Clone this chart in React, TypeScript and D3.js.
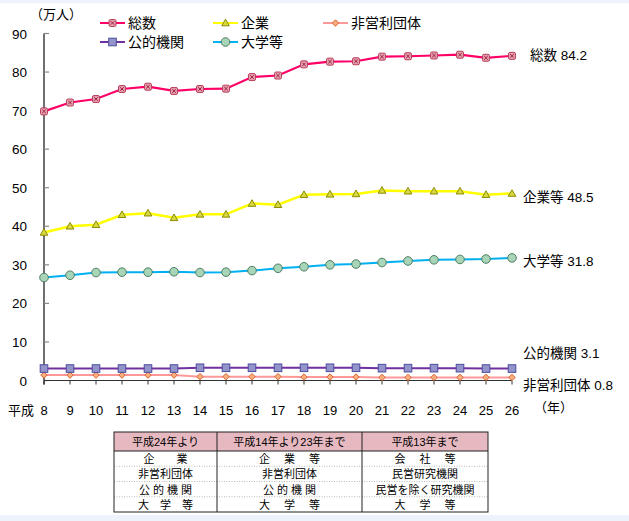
import React from "react";
import * as d3 from "d3";

const years = [8, 9, 10, 11, 12, 13, 14, 15, 16, 17, 18, 19, 20, 21, 22, 23, 24, 25, 26];
const yTicks = [0, 10, 20, 30, 40, 50, 60, 70, 80, 90];

const total = [69.8, 72.1, 73.0, 75.6, 76.2, 75.1, 75.6, 75.7, 78.7, 79.1, 82.0, 82.7, 82.8, 84.0, 84.1, 84.3, 84.5, 83.7, 84.2];
const company = [38.4, 40.0, 40.4, 43.0, 43.4, 42.2, 43.1, 43.1, 45.9, 45.6, 48.2, 48.3, 48.4, 49.3, 49.1, 49.1, 49.1, 48.2, 48.5];
const univ = [26.7, 27.3, 28.0, 28.1, 28.1, 28.2, 28.0, 28.1, 28.5, 29.1, 29.5, 30.0, 30.2, 30.6, 31.0, 31.3, 31.4, 31.5, 31.8];
const publicInst = [3.1, 3.1, 3.1, 3.1, 3.1, 3.1, 3.3, 3.3, 3.3, 3.3, 3.3, 3.3, 3.3, 3.2, 3.2, 3.2, 3.2, 3.1, 3.1];
const nonProfit = [1.4, 1.4, 1.4, 1.4, 1.4, 1.4, 1.0, 1.0, 1.0, 1.0, 0.9, 0.9, 0.9, 0.8, 0.8, 0.8, 0.8, 0.8, 0.8];

const seriesNames = ["総数", "企業", "非営利団体", "公的機関", "大学等"];
const endLabels = ["総数 84.2", "企業等 48.5", "非営利団体 0.8", "公的機関 3.1", "大学等 31.8"];

const tableHeader = ["平成24年より", "平成14年より23年まで", "平成13年まで"];
const tableRows = [
  ["企　　業", "企　 業　 等", "会　 社　 等"],
  ["非営利団体", "非営利団体", "民営研究機関"],
  ["公 的 機 関", "公 的 機 関", "民営を除く研究機関"],
  ["大　学　等", "大　 学　 等", "大　 学　 等"],
];

const FONT = "'Liberation Sans', Arial, 'Noto Sans CJK JP', sans-serif";

type Style = { line: string; width: number; marker: string; fill: string; stroke: string };
const styles: Style[] = [
  { line: "#ff0066", width: 2.2, marker: "xsquare", fill: "#e4a0b0", stroke: "#b8405c" },
  { line: "#ffff00", width: 2.5, marker: "triangle", fill: "#d8d840", stroke: "#8c8c00" },
  { line: "#ff9999", width: 2, marker: "diamond", fill: "#f4b080", stroke: "#e0602c" },
  { line: "#7030a0", width: 2, marker: "square", fill: "#9494cc", stroke: "#4c4c9c" },
  { line: "#00b0f0", width: 2, marker: "circle", fill: "#a8d4b8", stroke: "#4e7e60" },
];

function Marker({ kind, x, y, fill, stroke }: { kind: string; x: number; y: number; fill: string; stroke: string }) {
  if (kind === "xsquare") {
    return (
      <g>
        <rect x={x - 3.5} y={y - 3.5} width={7} height={7} rx={1.5} fill={fill} stroke={stroke} strokeWidth={1} />
        <path d={`M${x - 1.8},${y - 1.8}L${x + 1.8},${y + 1.8}M${x + 1.8},${y - 1.8}L${x - 1.8},${y + 1.8}`} stroke="#a02040" strokeWidth={1} />
      </g>
    );
  }
  if (kind === "triangle") {
    return <path d={`M${x},${y - 3.8}L${x + 3.8},${y + 2.8}L${x - 3.8},${y + 2.8}Z`} fill={fill} stroke={stroke} strokeWidth={1} />;
  }
  if (kind === "diamond") {
    return <path d={`M${x},${y - 3.2}L${x + 3.2},${y}L${x},${y + 3.2}L${x - 3.2},${y}Z`} fill={fill} stroke={stroke} strokeWidth={1} />;
  }
  if (kind === "square") {
    return <rect x={x - 3.8} y={y - 3.8} width={7.6} height={7.6} fill={fill} stroke={stroke} strokeWidth={1} />;
  }
  return <circle cx={x} cy={y} r={4.3} fill={fill} stroke={stroke} strokeWidth={1} />;
}

export default function App() {
  const W = 629, H = 521;
  const x = d3.scalePoint<number>().domain(years).range([44, 512]);
  const y = d3.scaleLinear().domain([0, 90]).range([380.5, 33.5]);
  const data = [total, company, nonProfit, publicInst, univ];
  const line = (vals: number[]) =>
    d3.line<number>().x((_, i) => x(years[i])!).y((v) => y(v))(vals) || "";

  const legendPos = [
    [100, 23], [213, 23], [323, 23], [100, 42], [213, 42],
  ];
  const endY = [55, 197, 385, 353, 261];

  // table geometry
  const tx = [114, 217, 362, 488];
  const ty0 = 432, th = 19, rh = 15.25;
  const tBottom = ty0 + th + rh * tableRows.length;

  return (
    <svg width={W} height={H} style={{ position: "absolute", left: 0, top: 0, background: "#fff" }} fontFamily={FONT}>
      <rect x={0} y={0} width={W} height={3} fill="#eef3fb" />
      <rect x={0} y={515} width={W} height={6} fill="#eef3fb" />

      {/* unit */}
      <text x={30} y={19} fontSize={13} fill="#000">（万人）</text>

      {/* legend */}
      {seriesNames.map((n, i) => {
        const [lx, ly] = legendPos[i];
        const s = styles[i];
        return (
          <g key={n}>
            <line x1={lx} x2={lx + 25} y1={ly} y2={ly} stroke={s.line} strokeWidth={2} />
            <Marker kind={s.marker} x={lx + 12.5} y={ly} fill={s.fill} stroke={s.stroke} />
            <text x={lx + 28} y={ly + 5} fontSize={14} fill="#000">{n}</text>
          </g>
        );
      })}

      {/* axes */}
      <line x1={44} x2={44} y1={y(90)} y2={y(0) + 4} stroke="#404040" strokeWidth={1.5} />
      {yTicks.map((t) => (
        <g key={t}>
          <line x1={44} x2={49} y1={y(t)} y2={y(t)} stroke="#888" strokeWidth={1.2} />
          <text x={27} y={y(t) + 5} fontSize={13.5} textAnchor="end" fill="#000">{t}</text>
        </g>
      ))}
      <line x1={44} x2={512} y1={y(0)} y2={y(0)} stroke="#303030" strokeWidth={1.2} />
      {years.map((yr) => (
        <g key={yr}>
          <line x1={x(yr)} x2={x(yr)} y1={y(0)} y2={y(0) + 4} stroke="#303030" strokeWidth={1} />
          <text x={x(yr)} y={415} fontSize={13} textAnchor="middle" fill="#000">{yr}</text>
        </g>
      ))}
      <text x={21} y={415} fontSize={13} textAnchor="middle" fill="#000">平成</text>
      <text x={534} y={412} fontSize={13} fill="#000">（年）</text>

      {/* lines */}
      {data.map((vals, i) => (
        <path key={i} d={line(vals)} fill="none" stroke={styles[i].line} strokeWidth={styles[i].width} />
      ))}
      {data.map((vals, i) =>
        vals.map((v, j) => (
          <Marker key={`${i}-${j}`} kind={styles[i].marker} x={x(years[j])!} y={y(v)} fill={styles[i].fill} stroke={styles[i].stroke} />
        ))
      )}

      {/* end labels */}
      {endLabels.map((l, i) => (
        <text key={l} x={i === 0 ? 530 : 523} y={endY[i] + 5} fontSize={13.5} fill="#000">{l}</text>
      ))}

      {/* table */}
      <rect x={tx[0]} y={ty0} width={tx[3] - tx[0]} height={th} fill="#e6b8c0" />
      {tableHeader.map((h, c) => (
        <text key={h} x={(tx[c] + tx[c + 1]) / 2} y={ty0 + 14} fontSize={11} textAnchor="middle" fill="#000">{h}</text>
      ))}
      {tableRows.map((row, r) => (
        <g key={r}>
          {r > 0 && (
            <line x1={tx[0]} x2={tx[3]} y1={ty0 + th + rh * r} y2={ty0 + th + rh * r} stroke="#aaa" strokeWidth={0.8} strokeDasharray="1,1.5" />
          )}
          {row.map((cell, c) => (
            <text key={c} x={(tx[c] + tx[c + 1]) / 2} y={ty0 + th + rh * r + 12} fontSize={11} textAnchor="middle" fill="#000">{cell}</text>
          ))}
        </g>
      ))}
      <line x1={tx[0]} x2={tx[3]} y1={ty0 + th} y2={ty0 + th} stroke="#222" strokeWidth={1} />
      {[1, 2].map((c) => (
        <line key={c} x1={tx[c]} x2={tx[c]} y1={ty0} y2={tBottom} stroke="#222" strokeWidth={1} />
      ))}
      <rect x={tx[0]} y={ty0} width={tx[3] - tx[0]} height={tBottom - ty0} fill="none" stroke="#222" strokeWidth={1} />
    </svg>
  );
}
